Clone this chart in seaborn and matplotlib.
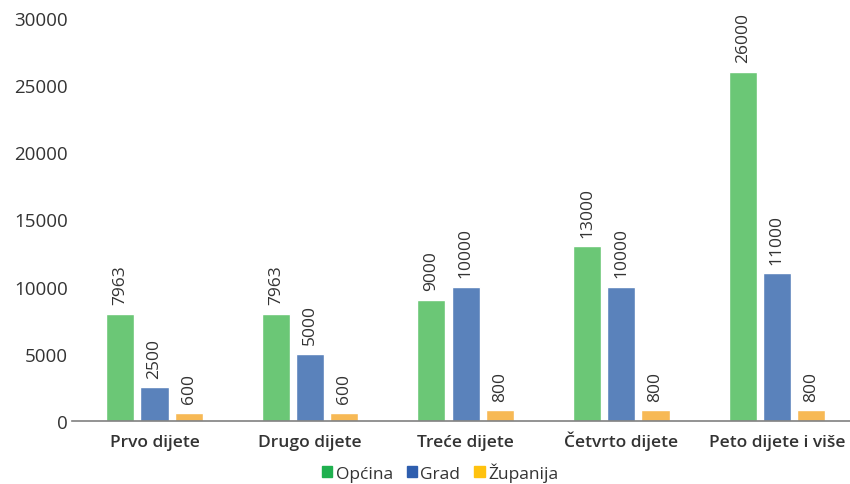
import matplotlib
matplotlib.use("Agg")
import matplotlib.pyplot as plt
from matplotlib.patches import Patch
import pandas as pd
import seaborn as sns

categories = ["Prvo dijete", "Drugo dijete", "Treće dijete", "Četvrto dijete", "Peto dijete i više"]
series = ["Općina", "Grad", "Županija"]
opcina = [7963, 7963, 9000, 13000, 26000]
grad = [2500, 5000, 10000, 10000, 11000]
zupanija = [600, 600, 800, 800, 800]

bar_colors = ["#6bc776", "#5a82bb", "#f7b955"]
legend_colors = ["#1fb04f", "#2e5eae", "#ffc20e"]

df = pd.DataFrame({
    "kategorija": categories * 3,
    "serija": [s for s in series for _ in categories],
    "iznos": opcina + grad + zupanija,
})

sns.set_theme(style="white")
plt.rcParams["font.family"] = ["Open Sans", "DejaVu Sans"]
txt = "#333333"

fig = plt.figure(figsize=(8.5, 4.85), dpi=100)
ax = fig.add_axes([72 / 850, 63 / 485, 778 / 850, 403 / 485])

sns.barplot(data=df, x="kategorija", y="iznos", hue="serija", order=categories,
            hue_order=series, palette=bar_colors, width=0.66, gap=0.18,
            saturation=1, errorbar=None, legend=False, ax=ax)

for cont in ax.containers:
    ax.bar_label(cont, labels=[f"{int(v)}" for v in cont.datavalues],
                 rotation=90, padding=7, fontsize=12.5, color=txt)

ax.set_ylim(0, 30000)
ax.set_xlim(-0.53, 4.47)
ax.set_yticks(range(0, 30001, 5000))
ax.set_xlabel("")
ax.set_ylabel("")
ax.tick_params(axis="y", labelsize=13.5, labelcolor=txt, length=0, pad=3)
ax.tick_params(axis="x", labelsize=12.5, labelcolor=txt, length=0, pad=18)
for lbl in ax.get_xticklabels():
    lbl.set_fontweight("semibold")
    lbl.set_verticalalignment("baseline")
for s in ["top", "right", "left"]:
    ax.spines[s].set_visible(False)
ax.spines["bottom"].set_color("#808080")
ax.spines["bottom"].set_linewidth(1.2)

handles = [Patch(color=c, label=s) for c, s in zip(legend_colors, series)]
fig.legend(handles=handles, loc="center", bbox_to_anchor=(440 / 850, 1 - 473 / 485),
           ncol=3, frameon=False, handlelength=0.6, handleheight=0.6,
           handletextpad=0.2, columnspacing=0.8, labelcolor=txt,
           prop={"size": 12.5, "weight": "medium"})

fig.savefig("out.png", dpi=100)
